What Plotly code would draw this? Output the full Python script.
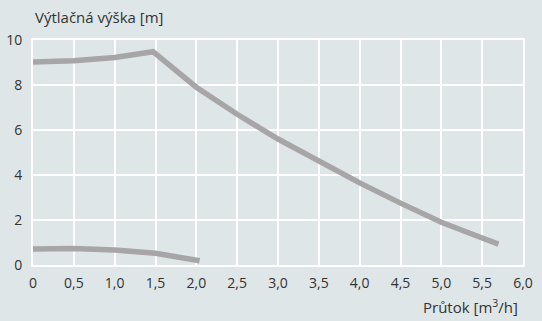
import plotly.graph_objects as go

# upper curve (pump at max speed)
flow_high = [0, 0.5, 1.0, 1.47, 2.0, 2.5, 3.0, 3.5, 4.0, 4.5, 5.0, 5.5, 5.7]
head_high = [9.02, 9.08, 9.22, 9.48, 7.9, 6.7, 5.6, 4.6, 3.65, 2.75, 1.9, 1.2, 0.93]

# lower curve (minimum)
flow_low = [0, 0.5, 1.0, 1.5, 2.04]
head_low = [0.71, 0.73, 0.67, 0.52, 0.19]

x_ticks = [0, 0.5, 1.0, 1.5, 2.0, 2.5, 3.0, 3.5, 4.0, 4.5, 5.0, 5.5, 6.0]
x_labels = ["0", "0,5", "1,0", "1,5", "2,0", "2,5", "3,0", "3,5", "4,0", "4,5", "5,0", "5,5", "6,0"]
y_ticks = [0, 2, 4, 6, 8, 10]

bg = "#dfe6e8"
line_col = "#a8a5a7"
font_fam = "Open Sans, sans-serif"
txt = "#333333"

fig = go.Figure()
fig.add_trace(go.Scatter(x=flow_high, y=head_high, mode="lines",
                         line=dict(color=line_col, width=5.5), hoverinfo="skip"))
fig.add_trace(go.Scatter(x=flow_low, y=head_low, mode="lines",
                         line=dict(color=line_col, width=5.5), hoverinfo="skip"))

fig.update_xaxes(range=[0, 6], tickvals=x_ticks, ticktext=x_labels, automargin=False,
                 showgrid=True, gridcolor="white", gridwidth=2,
                 zeroline=False, showline=True, linecolor="white", linewidth=2, mirror=True,
                 ticks="", ticklabelstandoff=4, tickfont=dict(size=14, color=txt))
fig.update_yaxes(range=[0, 10], tickvals=y_ticks, automargin=False,
                 showgrid=True, gridcolor="white", gridwidth=2,
                 zeroline=False, showline=True, linecolor="white", linewidth=2, mirror=True,
                 ticks="", ticklabelstandoff=6, tickfont=dict(size=14, color=txt))

fig.add_annotation(text="Výtlačná výška [m]", xref="paper", yref="paper",
                   x=0, y=1, xshift=0, yshift=23, xanchor="left", yanchor="middle",
                   showarrow=False, font=dict(size=15, color=txt, family=font_fam))
fig.add_annotation(text="Průtok [m<sup>3</sup>/h]", xref="paper", yref="paper",
                   x=1, y=0, xshift=-3, yshift=-41, xanchor="right", yanchor="middle",
                   showarrow=False, font=dict(size=15, color=txt, family=font_fam))

fig.update_layout(width=542, height=321,
                  margin=dict(l=33, r=19, t=40, b=56),
                  paper_bgcolor=bg, plot_bgcolor=bg,
                  font=dict(family=font_fam, color=txt),
                  showlegend=False)

fig.write_html("out.html", config={"displayModeBar": False},
               post_script="document.body.style.margin='0';document.body.style.background='%s';" % bg)
